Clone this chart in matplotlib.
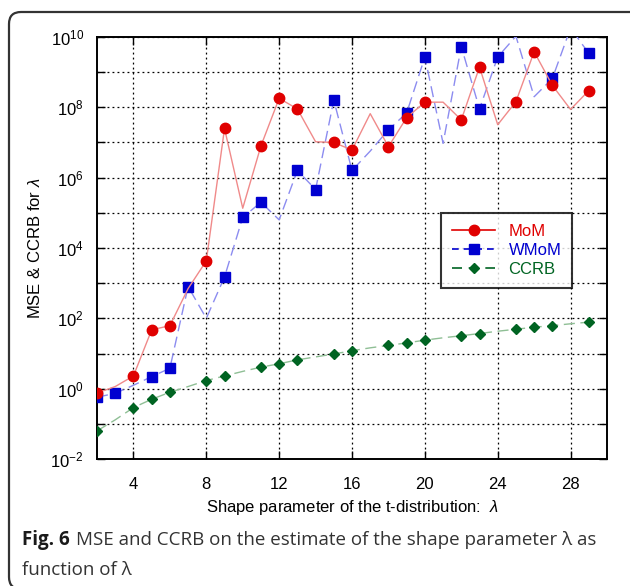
import matplotlib
matplotlib.use("Agg")
import matplotlib.pyplot as plt
from matplotlib.lines import Line2D
from matplotlib.patches import FancyBboxPatch

plt.rcParams["font.family"] = ["Liberation Sans", "DejaVu Sans"]
plt.rcParams["mathtext.fontset"] = "custom"
plt.rcParams["mathtext.rm"] = "Liberation Sans"
plt.rcParams["mathtext.it"] = "Liberation Sans:italic"

# ── data ──────────────────────────────────────────────────────────────────────
lam = list(range(2, 30))

mom = [0.75, 1.15, 2.3, 47, 62, 7e2, 4.3e3, 2.5e7, 1.35e5, 8e6,
       1.8e8, 9e7, 1.05e7, 1.0e7, 6.1e6, 6.6e7, 7.6e6, 5.1e7, 1.4e8, 1.4e8,
       4.4e7, 1.4e9, 3.2e7, 1.45e8, 3.8e9, 4.2e8, 8.7e7, 3e8]

wmom = [0.57, 0.74, 1.25, 2.2, 3.8, 8e2, 1e2, 1.5e3, 7.4e4, 2e5,
        6.3e4, 1.6e6, 4.6e5, 1.6e8, 1.6e6, 5.7e6, 2.3e7, 6.9e7, 2.7e9, 9.5e6,
        5.3e9, 9e7, 2.7e9, 1.05e10, 2e8, 6.6e8, 1.8e10, 3.4e9]

ccrb = [0.063, 0.13, 0.29, 0.5, 0.79, 1.15, 1.7, 2.3, 3.1, 4.1,
        5.1, 6.6, 8.0, 9.7, 12, 14.5, 17, 20, 24, 28,
        32, 37, 43, 49, 56, 62, 70, 78]

# lambdas where a marker is drawn
mom_marked = [2, 4, 5, 6, 8, 9, 11, 12, 13, 15, 16, 18, 19, 20, 22, 23, 25, 26, 27, 29]
wmom_marked = [2, 3, 5, 6, 7, 9, 10, 11, 13, 14, 15, 16, 18, 19, 20, 22, 23, 24, 27, 29]
ccrb_marked = mom_marked

xticks = [4, 8, 12, 16, 20, 24, 28]
ydecades = list(range(-2, 11))

RED, RED_L = "#e00000", "#f08a8a"
BLUE, BLUE_L = "#0000d0", "#8c8cf0"
GREEN, GREEN_L = "#006422", "#8fbf95"

fig = plt.figure(figsize=(6.3, 5.86), dpi=100)
fig.patch.set_facecolor("white")
ax = fig.add_axes([0.154, 0.2167, 0.8095, 0.7202])


def idx(marked):
    return [lam.index(v) for v in marked]


ax.plot(lam, mom, color=RED_L, lw=1.0, marker="o", ms=7.5, mfc=RED, mec=RED,
        markevery=idx(mom_marked), zorder=4)
ax.plot(lam, wmom, color=BLUE_L, lw=1.0, ls=(0, (8, 4)), marker="s", ms=7,
        mfc=BLUE, mec=BLUE, markevery=idx(wmom_marked), zorder=3)
ax.plot(lam, ccrb, color=GREEN_L, lw=1.0, ls=(0, (8, 4)), marker="D", ms=5,
        mfc=GREEN, mec=GREEN, markevery=idx(ccrb_marked), zorder=3)

ax.set_yscale("log")
ax.set_xlim(2, 30)
ax.set_ylim(1e-2, 1e10)
ax.set_xticks(xticks)
ax.set_yticks([10.0 ** d for d in ydecades])
ax.set_yticklabels([r"$10^{%d}$" % d if d % 2 == 0 else "" for d in ydecades])
ax.minorticks_off()
ax.tick_params(direction="in", top=True, right=True, length=6, width=1,
               labelsize=12)
ax.tick_params(axis="x", pad=13)
ax.tick_params(axis="y", pad=9.5)
ax.grid(True, color="black", ls=(0, (1.5, 2.5)), lw=0.9)
for s in ax.spines.values():
    s.set_linewidth(1.4)

ax.set_xlabel(r"Shape parameter of the t-distribution:  $\lambda$", fontsize=12, labelpad=4)
ax.set_ylabel(r"MSE & CCRB for $\lambda$", fontsize=12, labelpad=5)

handles = [
    Line2D([], [], color=RED, lw=1.2, marker="o", ms=7.5),
    Line2D([], [], color=BLUE, lw=1.2, ls=(0, (4, 3)), marker="s", ms=7),
    Line2D([], [], color=GREEN, lw=1.2, ls=(0, (6, 4)), marker="D", ms=5),
]
leg = ax.legend(handles, ["MoM", "WMoM", "CCRB"], loc="upper left",
                bbox_to_anchor=(0.6745, 0.583), borderaxespad=0, fancybox=False,
                fontsize=12, handlelength=2.6, labelspacing=0.25, borderpad=0.65)
leg.get_frame().set_edgecolor("black")
leg.get_frame().set_linewidth(1.5)
for t, c in zip(leg.get_texts(), [RED, BLUE, GREEN]):
    t.set_color(c)

# ── caption + frame ───────────────────────────────────────────────────────────
fig.add_artist(FancyBboxPatch((0.09, -0.03), 6.35, 5.77,
                              boxstyle="round,pad=0,rounding_size=0.12",
                              transform=fig.dpi_scale_trans, facecolor="none",
                              edgecolor="#333333", lw=1.6))

cap_font = ["Open Sans", "DejaVu Sans"]
t1 = fig.text(22 / 630, 1 - 545 / 586, "Fig. 6", fontsize=13.5, fontweight="bold",
              family=cap_font, color="#1a1a1a", va="baseline", ha="left")
fig.canvas.draw()
bb = t1.get_window_extent()
fig.text((bb.x1 + 6) / 630, 1 - 545 / 586,
         "MSE and CCRB on the estimate of the shape parameter λ as",
         fontsize=13.5, family=cap_font, color="#333333", va="baseline", ha="left")
fig.text(22 / 630, 1 - 575 / 586, "function of λ",
         fontsize=13.5, family=cap_font, color="#333333", va="baseline", ha="left")

fig.savefig("out.png", dpi=100, facecolor="white")
